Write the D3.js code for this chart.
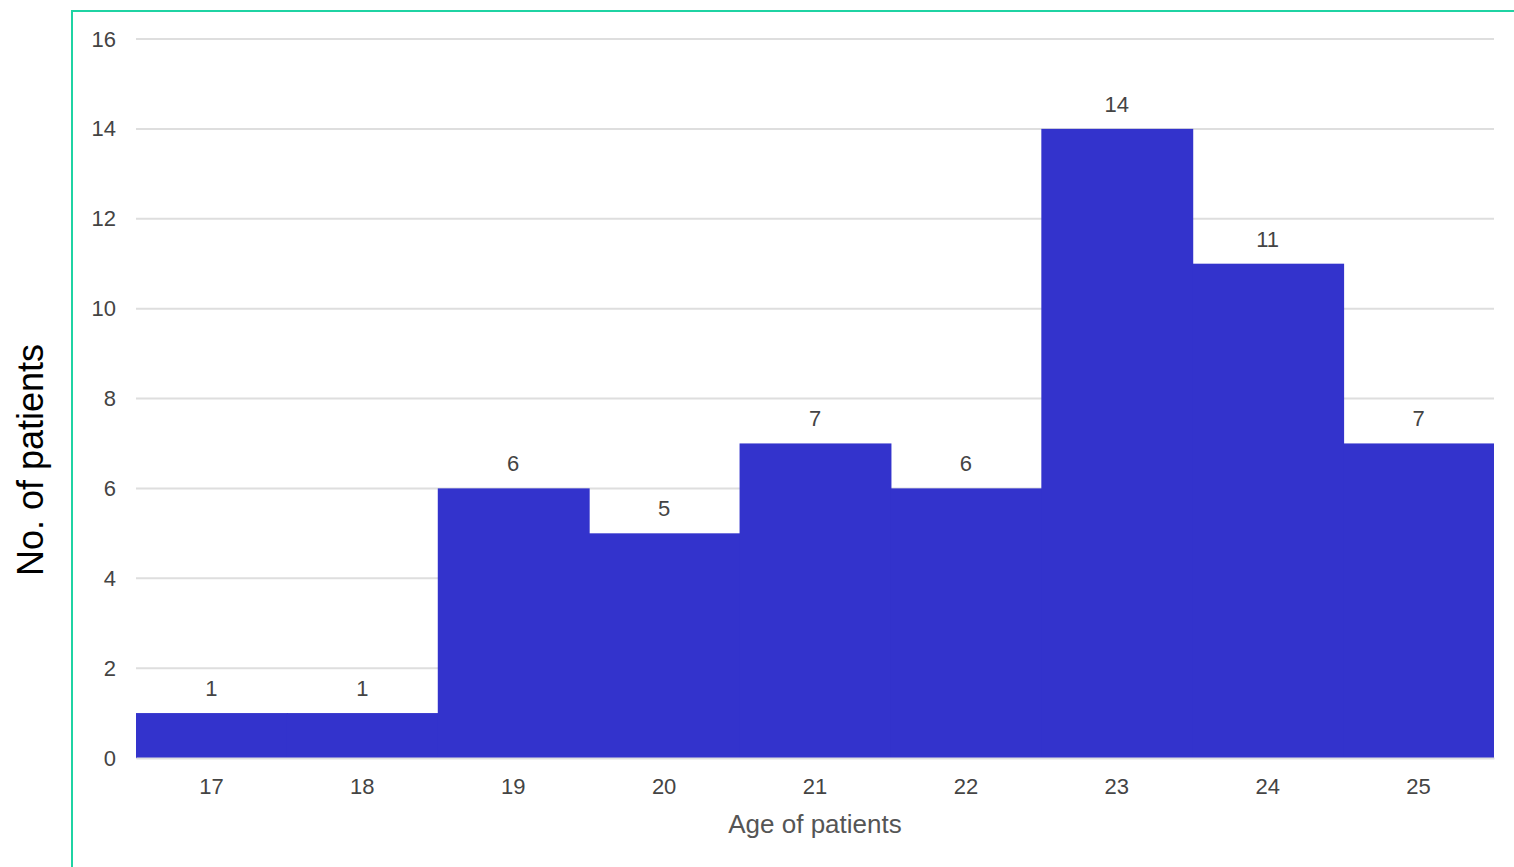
<!DOCTYPE html>
<html>
<head>
<meta charset="utf-8">
<script src="https://cdn.jsdelivr.net/npm/d3@7"></script>
<style>
  html, body { margin: 0; padding: 0; background: #fff; }
  svg { display: block; font-family: "Liberation Sans", Arial, sans-serif; }
</style>
</head>
<body>
<svg id="chart" width="1514" height="867"></svg>
<script>
const ages = ["17", "18", "19", "20", "21", "22", "23", "24", "25"];
const counts = [1, 1, 6, 5, 7, 6, 14, 11, 7];
const yTicks = [0, 2, 4, 6, 8, 10, 12, 14, 16];
const xTitle = "Age of patients";
const yTitle = "No. of patients";

const svg = d3.select("#chart");
const W = 1514, H = 867;
const m = { left: 136, right: 20, top: 39, bottom: 109 };
const FONT = "'Liberation Sans', Arial, sans-serif";

// teal frame
svg.append("path")
  .attr("d", `M72,${H + 5} L72,11 L${W + 5},11`)
  .attr("fill", "none").attr("stroke", "#1fd3a3").attr("stroke-width", 2);

const x = d3.scaleBand().domain(ages).range([m.left, W - m.right]).padding(0);
const y = d3.scaleLinear().domain([0, 16]).range([H - m.bottom, m.top]);

// grid
svg.append("g").selectAll("line").data(yTicks).join("line")
  .attr("x1", m.left).attr("x2", W - m.right)
  .attr("y1", d => y(d)).attr("y2", d => y(d))
  .attr("stroke", "#dedede").attr("stroke-width", 2);

// y tick labels
const yAxis = svg.append("g").attr("transform", `translate(${m.left},0)`)
  .call(d3.axisLeft(y).tickValues(yTicks).tickSize(0).tickPadding(20));
yAxis.attr("font-family", FONT);
yAxis.select(".domain").remove();
yAxis.selectAll("text").attr("font-size", 22).attr("fill", "#444");

// bars
svg.append("g").selectAll("rect").data(counts).join("rect")
  .attr("x", (d, i) => x(ages[i]))
  .attr("y", d => y(d))
  .attr("width", (d, i) => x.bandwidth() + (i < ages.length - 1 ? 1 : 0))
  .attr("height", d => y(0) - y(d))
  .attr("fill", "#3333cc");

// bar labels
svg.append("g").attr("font-family", FONT).selectAll("text").data(counts).join("text")
  .attr("x", (d, i) => x(ages[i]) + x.bandwidth() / 2)
  .attr("y", d => y(d) - 17)
  .attr("text-anchor", "middle")
  .attr("font-size", 22).attr("fill", "#444")
  .text(d => d);

// x axis
const xAxis = svg.append("g").attr("transform", `translate(0,${y(0)})`)
  .call(d3.axisBottom(x).tickSize(0).tickPadding(20));
xAxis.attr("font-family", FONT);
xAxis.select(".domain").attr("stroke", "#dedede").attr("stroke-width", 2);
xAxis.selectAll("text").attr("font-size", 22).attr("fill", "#444");

// titles
svg.append("text")
  .attr("x", (m.left + W - m.right) / 2).attr("y", 833)
  .attr("font-family", FONT)
  .attr("text-anchor", "middle").attr("font-size", 26).attr("fill", "#555")
  .text(xTitle);

svg.append("text")
  .attr("transform", `translate(43,${460}) rotate(-90)`)
  .attr("font-family", FONT)
  .attr("text-anchor", "middle").attr("font-size", 36).attr("fill", "#000")
  .text(yTitle);
</script>
</body>
</html>
